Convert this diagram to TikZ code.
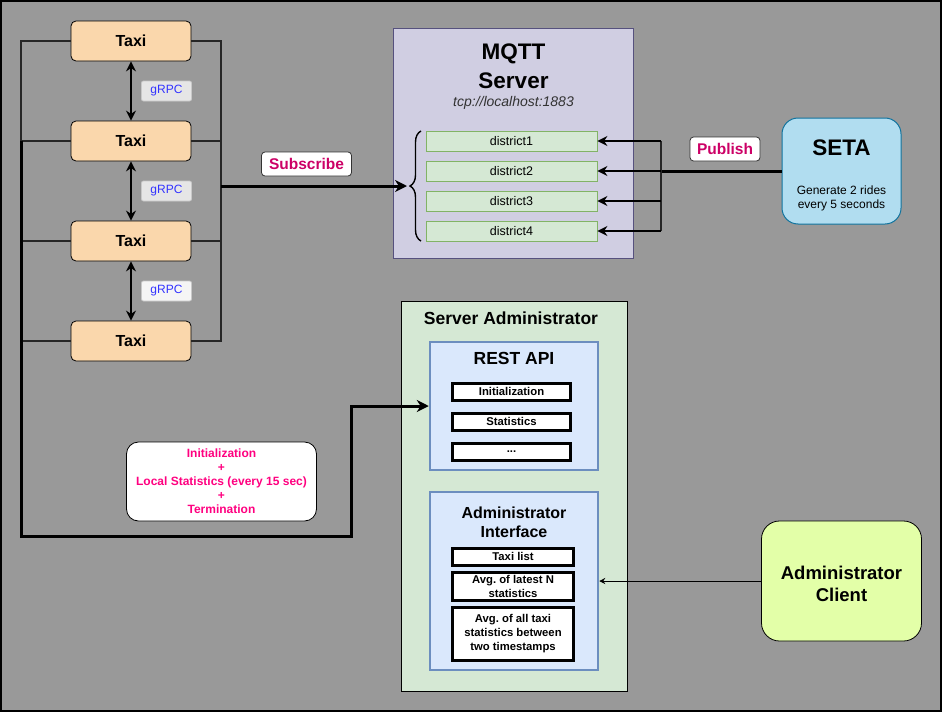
\documentclass[tikz,border=0pt]{standalone}
\usepackage{fontspec}
\setmainfont{Liberation Sans}
\usetikzlibrary{arrows.meta,decorations.pathreplacing}
\frenchspacing

\definecolor{bgc}{HTML}{999999}
\definecolor{taxic}{HTML}{FAD7AC}
\definecolor{grpcc}{HTML}{E6E6E6}
\definecolor{grpcline}{HTML}{C8C8C8}
\definecolor{grpct}{HTML}{3333FF}
\definecolor{tagt}{HTML}{CC0066}
\definecolor{mqttc}{HTML}{D0CEE2}
\definecolor{mqttline}{HTML}{56517E}
\definecolor{distc}{HTML}{D5E8D4}
\definecolor{distline}{HTML}{82B366}
\definecolor{setac}{HTML}{B1DDF0}
\definecolor{setaline}{HTML}{10739E}
\definecolor{panelc}{HTML}{DAE8FC}
\definecolor{panelline}{HTML}{6C8EBF}
\definecolor{notet}{HTML}{FF0080}
\definecolor{clientc}{HTML}{E3FFA8}

\def\fsz#1#2{\fontsize{#1}{#2}\selectfont}

\begin{document}
\begin{tikzpicture}[x=1pt, y=-1pt,
  every node/.style={inner sep=0pt, align=center},
  taxi/.style={draw, line width=0.8pt, rounded corners=5pt, fill=taxic, minimum width=120pt, minimum height=40pt, font=\bfseries\fsz{16}{19}},
  grpc/.style={draw=grpcline, line width=0.8pt, rounded corners=2pt, fill=grpcc, minimum width=50pt, minimum height=20pt, text=grpct, font=\fsz{12}{14}},
  tag/.style={draw=black!80, line width=0.8pt, rounded corners=3.5pt, fill=white, minimum height=24pt, text=tagt, font=\bfseries\fsz{15.5}{18}},
  district/.style={draw=distline, fill=distc, line width=0.8pt, minimum width=171pt, minimum height=20pt, font=\fsz{12.5}{15}},
  item/.style={draw, line width=3pt, fill=white, minimum width=118pt, minimum height=17pt, font=\bfseries\fsz{11.3}{14}},
  panel/.style={draw=panelline, line width=2.5pt, fill=panelc, minimum width=168pt},
  bus/.style={line width=1.5pt, draw=black!85},
  link/.style={line width=1.8pt, -{Stealth[length=10pt,width=10pt]}},
  duplex/.style={line width=1.8pt, {Stealth[length=10pt,width=10pt]}-{Stealth[length=10pt,width=10pt]}},
  heavy/.style={line width=3pt, -{Stealth[length=12pt,width=12pt]}},
  thin/.style={line width=0.8pt, -{Stealth[length=6pt,width=6pt]}}]
  \useasboundingbox (0,0) rectangle (942,712);
  \fill[bgc] (0,0) rectangle (942,712);
  \draw[line width=1.5pt] (1,1) rectangle (941,711);

  \node[taxi] (t1) at (131,41) {Taxi};
  \node[taxi] (t2) at (131,141) {Taxi};
  \node[taxi] (t3) at (131,241) {Taxi};
  \node[taxi] (t4) at (131,341) {Taxi};
  \node[grpc] (g1) at (166.5,91) {gRPC};
  \node[grpc] (g2) at (166.5,191) {gRPC};
  \node[grpc, fill=white!96!black] (g3) at (166.5,291) {gRPC};
  \draw[duplex] (t1) -- (t2);
  \draw[duplex] (t2) -- (t3);
  \draw[duplex] (t3) -- (t4);

  \coordinate (lb1) at (21,41);
  \coordinate (lb2) at (21,141);
  \coordinate (lb3) at (21,241);
  \coordinate (lb4) at (21,341);
  \coordinate (rb1) at (221,41);
  \coordinate (rb4) at (221,341);
  \coordinate (rbm) at (221,186);
  \draw[bus] (t1.west) -- (lb1) -- (lb4) -- (t4.west);
  \draw[bus] (t2.west) -- (lb2);
  \draw[bus] (t3.west) -- (lb3);
  \draw[bus] (t1.east) -- (rb1) -- (rb4) -- (t4.east);
  \draw[bus] (t2.east) -- (t2.east -| rb1);
  \draw[bus] (t3.east) -- (t3.east -| rb1);

  \node[draw=mqttline, line width=1pt, fill=mqttc, minimum width=240pt, minimum height=230pt] (mqtt) at (513.5,143.5) {};
  \node[font=\bfseries\fsz{22.5}{29}] (mqtttitle) at (513.5,66.5) {MQTT\\Server};
  \node[font=\itshape\fsz{14}{16}, text=black!80] (mqttaddr) at (513.5,102.5) {tcp://localhost:1883};
  \node[district] (d1) at (511.5,141) {district1};
  \node[district] (d2) at (511.5,171) {district2};
  \node[district] (d3) at (511.5,201) {district3};
  \node[district] (d4) at (511.5,231) {district4};
  \draw[line width=1.4pt, decorate, decoration={brace, amplitude=11pt}] (421,241) -- (421,131);
  \coordinate (btip) at (407,186);
  \draw[heavy] (rbm) -- (btip);
  \node[tag, minimum width=90pt] (sub) at (306.5,164) {Subscribe};

  \node[draw=setaline, line width=1pt, fill=setac, rounded corners=16pt, minimum width=119pt, minimum height=106pt] (seta) at (841.5,171) {};
  \node[font=\bfseries\fsz{22.5}{26}] (setatitle) at (841.5,148) {SETA};
  \node[font=\fsz{12}{13.5}] (setatext) at (841.5,198.5) {Generate 2 rides\\every 5 seconds};
  \coordinate (pb1) at (661,141);
  \coordinate (pb2) at (661,171);
  \coordinate (pb3) at (661,201);
  \coordinate (pb4) at (661,231);
  \draw[line width=3pt] (seta.west) -- (pb2);
  \draw[line width=1.8pt, draw=black!85] (pb1) -- (pb4);
  \draw[link] (pb1) -- (d1.east);
  \draw[link] (pb2) -- (d2.east);
  \draw[link] (pb3) -- (d3.east);
  \draw[link] (pb4) -- (d4.east);
  \node[tag, minimum width=70pt] (pub) at (725,149) {Publish};

  \node[draw, line width=0.8pt, fill=distc, minimum width=226pt, minimum height=390pt] (admin) at (514,496) {};
  \node[font=\bfseries\fsz{17.5}{20}] (admintitle) at (511,318) {Server Administrator};
  \node[panel, minimum height=128pt] (rest) at (514,406) {};
  \node[font=\bfseries\fsz{17.5}{20}] (resttitle) at (514,358) {REST API};
  \node[item] (i1) at (511.5,391.5) {Initialization};
  \node[item] (i2) at (511.5,421.5) {Statistics};
  \node[item] (i3) at (511.5,451.5) {...};
  \node[panel, minimum height=178pt] (ai) at (514,581) {};
  \node[font=\bfseries\fsz{16}{19}] (aititle) at (514,522) {Administrator\\Interface};
  \node[item, minimum width=121pt] (a1) at (513,556.5) {Taxi list};
  \node[item, minimum width=121pt, minimum height=28pt] (a2) at (513,586.5) {Avg. of latest N\\statistics};
  \node[item, minimum width=121pt, minimum height=53pt] (a3) at (513,634) {Avg. of all taxi\\statistics between\\two timestamps};

  \node[draw, line width=0.8pt, rounded corners=12pt, fill=white, minimum width=190pt, minimum height=79pt, text=notet, font=\bfseries\fsz{12}{14}] (note) at (221.5,481.5) {Initialization\\+\\Local Statistics (every 15 sec)\\+\\Termination};
  \coordinate (c1) at (21,536);
  \coordinate (c2) at (351,536);
  \draw[heavy] (lb2) -- (c1) -- (c2) |- (rest.west);

  \node[draw, line width=0.8pt, rounded corners=18pt, fill=clientc, minimum width=160pt, minimum height=120pt] (client) at (841.5,581) {};
  \node[font=\bfseries\fsz{18.5}{22}] (clienttext) at (841.5,584) {Administrator\\Client};
  \draw[thin] (client.west) -- (ai.east);
\end{tikzpicture}
\end{document}
